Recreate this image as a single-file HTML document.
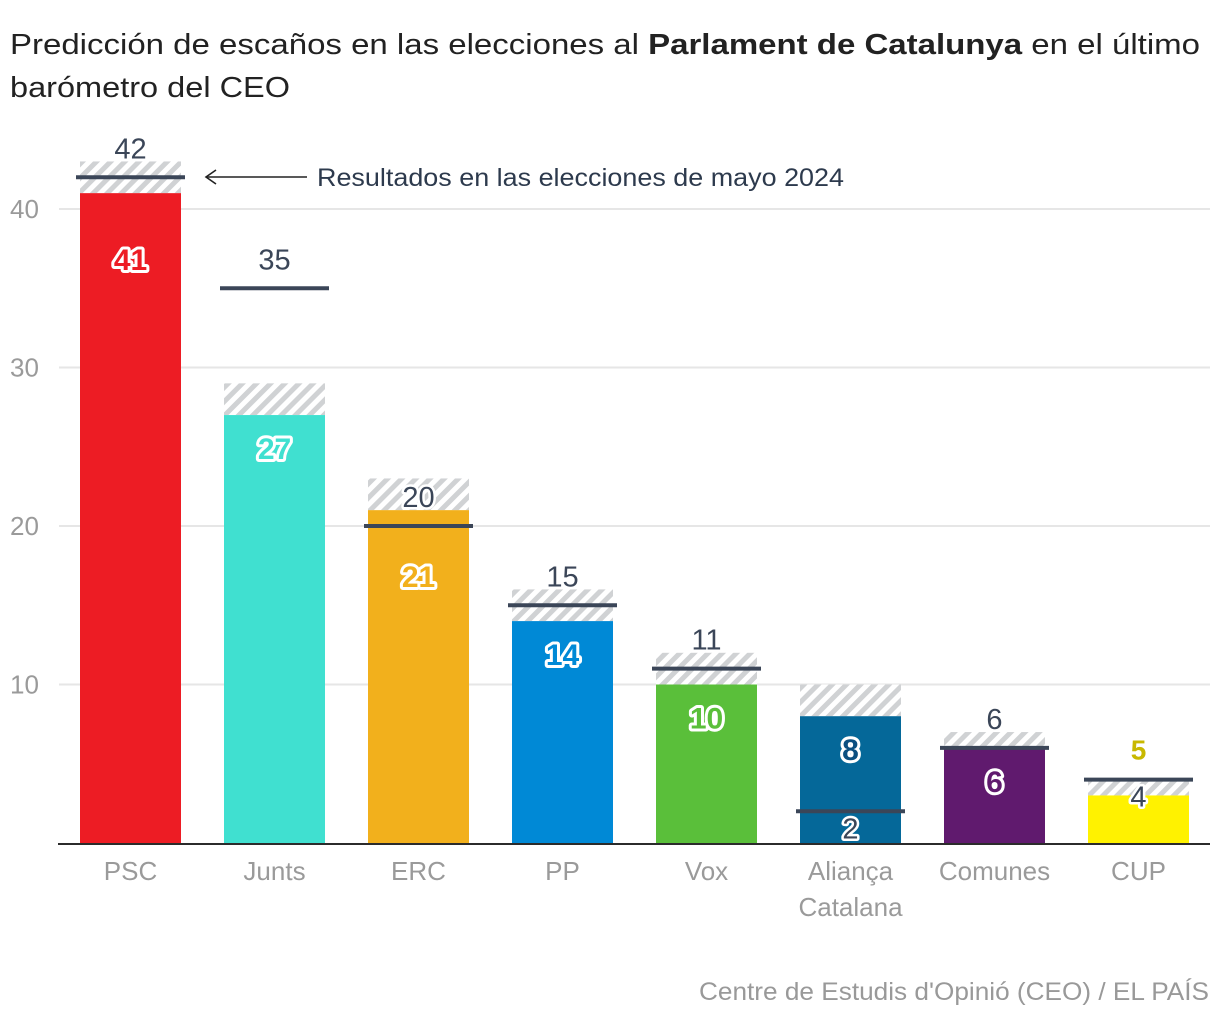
<!DOCTYPE html>
<html><head><meta charset="utf-8">
<style>
html,body{margin:0;padding:0;background:#fff;}
svg{display:block;font-family:"Liberation Sans",sans-serif;}
</style></head>
<body>
<svg id="chart" width="1220" height="1020" viewBox="0 0 1220 1020" xmlns="http://www.w3.org/2000/svg">
<defs>
<pattern id="hatch" patternUnits="userSpaceOnUse" width="10" height="10" patternTransform="rotate(45)">
<rect width="10" height="10" fill="#fff"/>
<rect width="5" height="10" fill="#d0d2d4"/>
</pattern>
</defs>
<text x="10" y="54" font-size="29" fill="#222" textLength="1190" lengthAdjust="spacingAndGlyphs">Predicción de escaños en las elecciones al <tspan font-weight="bold">Parlament de Catalunya</tspan> en el último</text>
<text x="10" y="97" font-size="29" fill="#222" textLength="280" lengthAdjust="spacingAndGlyphs">barómetro del CEO</text>
<g id="grid"></g>
<g id="bars"></g>
<line x1="58" x2="1210" y1="844" y2="844" stroke="#2b2b2b" stroke-width="2"/>
<g>
<line x1="207" x2="307" y1="177" y2="177" stroke="#222" stroke-width="1.6"/>
<path d="M216 170 L206 177 L216 184" fill="none" stroke="#222" stroke-width="1.6"/>
<text x="317" y="186" font-size="25" fill="#2d3a4d" textLength="527" lengthAdjust="spacingAndGlyphs">Resultados en las elecciones de mayo 2024</text>
</g>
<text x="1209" y="1000" text-anchor="end" font-size="25" fill="#999" textLength="510" lengthAdjust="spacingAndGlyphs">Centre de Estudis d'Opinió (CEO) / EL PAÍS</text>
</svg>
<script>
const parties = ["PSC","Junts","ERC","PP","Vox","Aliança|Catalana","Comunes","CUP"];
const predLow = [41,27,21,14,10,8,6,3];
const predHigh = [43,29,23,16,12,10,7,4];
const predLabel = [41,27,21,14,10,8,6,5];
const results2024 = [42,35,20,15,11,2,6,4];
const yTicks = [10,20,30,40];
const colors = ["#ed1c24","#40e0d0","#f2b01c","#0089d6","#5abf3a","#056899","#601a6e","#fff200"];
const labelColors = ["#ed1c24","#40e0d0","#f2b01c","#0089d6","#5abf3a","#0b4f80","#601a6e","#c8b800"];
const resultBelow = [false,false,false,false,false,true,false,true];
const predOutside = [false,false,false,false,false,false,false,true];
const labelShift = [33,0,33,0,0,0,0,0];

const NS="http://www.w3.org/2000/svg";
const y = v => 843 - v*15.85;
const xLeft = i => 80 + i*144;
const bw = 101;
function mk(tag, attrs, parent){const e=document.createElementNS(NS,tag);for(const k in attrs)e.setAttribute(k,attrs[k]);parent.appendChild(e);return e;}
const grid=document.getElementById('grid'), bars=document.getElementById('bars');
yTicks.forEach(t=>{
  const l=mk('line',{x1:59,x2:1210,y1:y(t),y2:y(t),stroke:'#e6e6e6','stroke-width':2},grid);
  
  
  const tx=mk('text',{x:10,y:y(t)+9,'font-size':26,fill:'#9a9a9a'},grid);
  tx.textContent=t;
  
  
});
parties.forEach((p,i)=>{
  const x=xLeft(i), cx=x+bw/2;
  const h=mk('rect',{x:x,y:y(predHigh[i]),width:bw,height:y(predLow[i])-y(predHigh[i]),fill:'url(#hatch)'},bars);
  
  
  const b=mk('rect',{x:x,y:y(predLow[i]),width:bw,height:843-y(predLow[i]),fill:colors[i]},bars);
  
  
  let pl;
  if(predOutside[i]){
    pl=mk('text',{x:cx,y:y(predHigh[i])-20,'text-anchor':'middle','font-size':28,'font-weight':'bold',fill:labelColors[i]},bars);
  } else {
    pl=mk('text',{x:cx,y:y(predLow[i])+44+labelShift[i],'text-anchor':'middle','font-size':30,'font-weight':'bold',fill:labelColors[i],stroke:'#fff','stroke-width':6,'stroke-linejoin':'round','paint-order':'stroke'},bars);
  }
  pl.textContent=predLabel[i];
  
  
  const rl=mk('line',{x1:x-4,x2:x+bw+4,y1:y(results2024[i]),y2:y(results2024[i]),stroke:'#3b4658','stroke-width':4},bars);
  
  
  const ry = resultBelow[i] ? y(results2024[i])+27 : y(results2024[i])-19;
  const rt=mk('text',{x:cx,y:ry,'text-anchor':'middle','font-size':29,fill:'#3b4658',stroke:'#fff','stroke-width':5,'stroke-linejoin':'round','paint-order':'stroke'},bars);
  rt.textContent=results2024[i];
  
  
  p.split('|').forEach((line,j)=>{
    const c=mk('text',{x:cx,y:880+j*36,'text-anchor':'middle','font-size':26,fill:'#9a9a9a'},bars);
    c.textContent=line;
    
    
  });
});
</script>
</body></html>
